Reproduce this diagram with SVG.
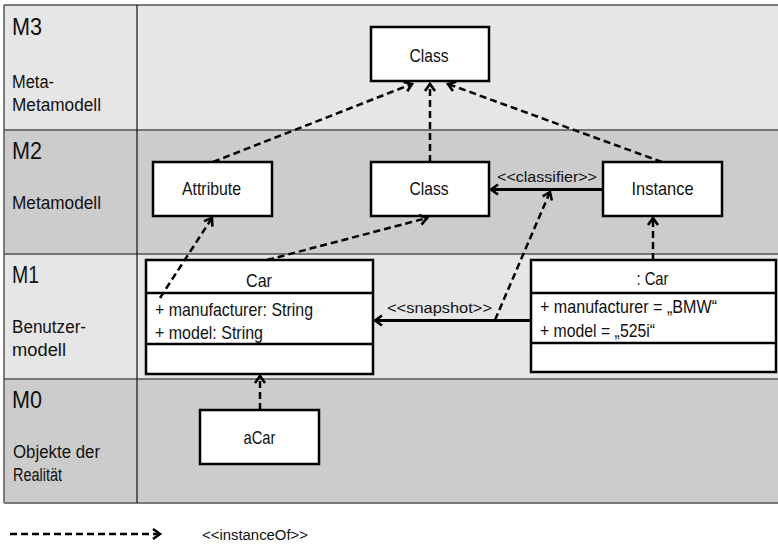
<svg xmlns="http://www.w3.org/2000/svg" width="778" height="544" viewBox="0 0 778 544">
<style>
text{font-family:"Liberation Sans",Arial,sans-serif;fill:#111}
.lvl{font-size:24px}
.lab{font-size:18px}
.box{fill:#fff;stroke:#000;stroke-width:2.5}
.bt{font-size:18.5px;text-anchor:middle}
.at{font-size:18.5px}
.st{font-size:15.5px}
.dash{fill:none;stroke:#000;stroke-width:2.5;stroke-dasharray:7 4}
.solid{fill:none;stroke:#000;stroke-width:3}
.row{stroke:#555;stroke-width:1.5}
</style>
<defs>
<marker id="arr" markerUnits="userSpaceOnUse" markerWidth="14" markerHeight="14" viewBox="0 0 14 14" refX="11" refY="7" orient="auto">
<path d="M4,2 L11,7 L4,12" fill="none" stroke="#000" stroke-width="2.6"/>
</marker>
</defs>
<g id="background">
<rect x="4" y="5" width="774" height="125" fill="#e6e6e6"/>
<rect x="4" y="130" width="774" height="124" fill="#cccccc"/>
<rect x="4" y="254" width="774" height="125" fill="#e6e6e6"/>
<rect x="4" y="379" width="774" height="124" fill="#cccccc"/>
<line x1="4" y1="5" x2="778" y2="5" stroke="#7a7a7a" stroke-width="2"/>
<line x1="4" y1="503" x2="778" y2="503" stroke="#7a7a7a" stroke-width="2"/>
<line x1="4" y1="5" x2="4" y2="503" stroke="#7a7a7a" stroke-width="2"/>
<line class="row" x1="4" y1="130" x2="778" y2="130"/>
<line class="row" x1="4" y1="254" x2="778" y2="254"/>
<line class="row" x1="4" y1="379" x2="778" y2="379"/>
<line x1="137" y1="5" x2="137" y2="503" stroke="#111" stroke-width="1.2"/>
</g>
<g id="levels">
<text class="lvl" x="12" y="35" textLength="30" lengthAdjust="spacingAndGlyphs">M3</text>
<text class="lab" x="12" y="88" textLength="42" lengthAdjust="spacingAndGlyphs">Meta-</text>
<text class="lab" x="12" y="111" textLength="89" lengthAdjust="spacingAndGlyphs">Metamodell</text>
<text class="lvl" x="12" y="159" textLength="30" lengthAdjust="spacingAndGlyphs">M2</text>
<text class="lab" x="12" y="209" textLength="89" lengthAdjust="spacingAndGlyphs">Metamodell</text>
<text class="lvl" x="12" y="283" textLength="27" lengthAdjust="spacingAndGlyphs">M1</text>
<text class="lab" x="12" y="333" textLength="74" lengthAdjust="spacingAndGlyphs">Benutzer-</text>
<text class="lab" x="12" y="356" textLength="54" lengthAdjust="spacingAndGlyphs">modell</text>
<text class="lvl" x="12" y="408" textLength="30" lengthAdjust="spacingAndGlyphs">M0</text>
<text class="lab" x="13" y="458" textLength="87" lengthAdjust="spacingAndGlyphs">Objekte der</text>
<text class="lab" x="13" y="481" textLength="49" lengthAdjust="spacingAndGlyphs">Realität</text>
</g>
<g id="class-m3">
<rect class="box" x="371" y="27" width="118" height="54"/>
<text class="bt" x="429" y="61.5" textLength="39" lengthAdjust="spacingAndGlyphs">Class</text>
</g>
<g id="attribute">
<rect class="box" x="153" y="162" width="119" height="54"/>
<text class="bt" x="211.5" y="195" textLength="59" lengthAdjust="spacingAndGlyphs">Attribute</text>
</g>
<g id="class-m2">
<rect class="box" x="371" y="162" width="118" height="54"/>
<text class="bt" x="429" y="195" textLength="39" lengthAdjust="spacingAndGlyphs">Class</text>
</g>
<g id="instance">
<rect class="box" x="603" y="162" width="119" height="54"/>
<text class="bt" x="662.5" y="195" textLength="62" lengthAdjust="spacingAndGlyphs">Instance</text>
</g>
<g id="car">
<rect class="box" x="146" y="260" width="227" height="114"/>
<line x1="146" y1="293" x2="373" y2="293" stroke="#000" stroke-width="2.5"/>
<line x1="146" y1="344" x2="373" y2="344" stroke="#000" stroke-width="2.5"/>
<text class="bt" x="259" y="287" textLength="26" lengthAdjust="spacingAndGlyphs">Car</text>
<text class="at" x="155" y="316" textLength="158" lengthAdjust="spacingAndGlyphs">+ manufacturer: String</text>
<text class="at" x="155" y="338.5" textLength="108" lengthAdjust="spacingAndGlyphs">+ model: String</text>
</g>
<g id="car-instance">
<rect class="box" x="531" y="260" width="245" height="112"/>
<line x1="531" y1="293" x2="776" y2="293" stroke="#000" stroke-width="2.5"/>
<line x1="531" y1="343" x2="776" y2="343" stroke="#000" stroke-width="2.5"/>
<text class="bt" x="652.5" y="284.5" textLength="32" lengthAdjust="spacingAndGlyphs">: Car</text>
<text class="at" x="540" y="313" textLength="177" lengthAdjust="spacingAndGlyphs">+ manufacturer = „BMW“</text>
<text class="at" x="540" y="337" textLength="115" lengthAdjust="spacingAndGlyphs">+ model = „525i“</text>
</g>
<g id="acar">
<rect class="box" x="200" y="410" width="119" height="54"/>
<text class="bt" x="259.5" y="444" textLength="32" lengthAdjust="spacingAndGlyphs">aCar</text>
</g>
<g id="connectors">
<line class="dash" x1="213" y1="162" x2="412" y2="84" marker-end="url(#arr)"/>
<line class="dash" x1="430" y1="162" x2="430" y2="84" marker-end="url(#arr)"/>
<line class="dash" x1="662" y1="162" x2="448" y2="84" marker-end="url(#arr)"/>
<line class="dash" x1="267" y1="260" x2="427" y2="218" marker-end="url(#arr)"/>
<line class="dash" x1="160" y1="298" x2="212" y2="218" marker-end="url(#arr)"/>
<line class="dash" x1="495" y1="320" x2="550" y2="192" marker-end="url(#arr)"/>
<line class="dash" x1="653" y1="260" x2="653" y2="218" marker-end="url(#arr)"/>
<line class="dash" x1="260" y1="410" x2="260" y2="376" marker-end="url(#arr)"/>
<line class="solid" x1="603" y1="189.5" x2="491" y2="189.5" marker-end="url(#arr)"/>
<line class="solid" x1="531" y1="320.5" x2="375" y2="320.5" marker-end="url(#arr)"/>
<text class="st" x="497" y="182" textLength="100" lengthAdjust="spacingAndGlyphs">&lt;&lt;classifier&gt;&gt;</text>
<text class="st" x="387" y="313" textLength="105" lengthAdjust="spacingAndGlyphs">&lt;&lt;snapshot&gt;&gt;</text>
</g>
<g id="legend">
<line class="dash" x1="10" y1="534" x2="160" y2="534" stroke-width="3" marker-end="url(#arr)"/>
<text class="st" x="202" y="540" textLength="106" lengthAdjust="spacingAndGlyphs">&lt;&lt;instanceOf&gt;&gt;</text>
</g>
</svg>
